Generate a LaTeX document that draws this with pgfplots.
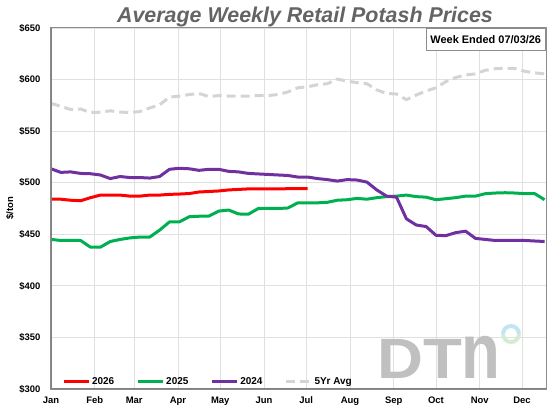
\documentclass[border=0pt]{standalone}
\usepackage{pgfplots}
\pgfplotsset{compat=1.18}
\usepackage{fontspec}
\setmainfont{Liberation Sans}
\definecolor{c26}{RGB}{255,0,0}
\definecolor{c25}{RGB}{0,176,80}
\definecolor{c24}{RGB}{112,48,160}
\definecolor{c5y}{RGB}{212,212,212}
\definecolor{titlegray}{RGB}{100,100,100}
\definecolor{dtngray}{RGB}{192,192,192}
\definecolor{dtnblue}{RGB}{196,228,244}
\definecolor{dtngreen}{RGB}{212,236,210}
\begin{document}
\begin{tikzpicture}
\begin{axis}[
  at={(0,0)}, anchor=south west,
  scale only axis, width=495bp, height=361bp,
  xmin=0, xmax=351, ymin=300, ymax=650,
  xtick={0,31,59,90,120,151,181,212,243,273,304,334},
  xticklabels={Jan,Feb,Mar,Apr,May,Jun,Jul,Aug,Sep,Oct,Nov,Dec},
  ytick={300,350,400,450,500,550,600,650},
  yticklabels={\$300,\$350,\$400,\$450,\$500,\$550,\$600,\$650},
  major tick length=0pt,
  xmajorgrids, ymajorgrids,
  major grid style={draw=black!12, line width=0.8bp},
  axis line style={draw=black!45, line width=1bp},
  xticklabel style={font=\bfseries\fontsize{9.5}{11}\selectfont, yshift=-4bp},
  yticklabel style={font=\bfseries\fontsize{9.5}{11}\selectfont, xshift=-7bp},
  ylabel={\$/ton},
  ylabel style={font=\bfseries\fontsize{9.5}{11}\selectfont, at={(axis description cs:-0.083,0.5)}, anchor=center},
  legend columns=4,
  legend image code/.code={\draw[#1] (0bp,0bp) -- (25bp,0bp);},
  legend style={at={(0.022,0.0194)}, anchor=west, draw=none, fill=none,
    inner sep=0pt, font=\bfseries\fontsize{10}{12}\selectfont,
    /tikz/every even column/.append style={column sep=20bp}},
  line join=round,
]
\addplot[c26, line width=3bp] coordinates {
(0,484)(7,484)(14,483)(21,482.5)(28,485.5)(35,488)(42,488)(49,488)(56,487)(63,487)
(70,488)(77,488)(84,488.7)(91,489)(98,489.5)(105,491)(112,491.5)(119,492)(126,493)(133,493.5)
(140,494)(147,494)(154,494)(161,494)(168,494.2)(175,494.3)(182,494.3)};
\addlegendentry{2026}
\addplot[c25, line width=3bp] coordinates {
(0,445)(7,444)(14,444)(21,444)(28,437.5)(35,437.5)(42,443)(49,445)(56,446.5)(63,447.3)(70,447.3)
(77,454)(84,462)(91,462)(98,467)(105,467.5)(112,467.7)(119,472.5)(126,473.5)(133,469.7)(140,469.5)
(147,475)(154,475)(161,475)(168,475.5)(175,480.5)(182,480.5)(189,480.5)(196,481)(203,483)(210,483.5)
(217,484.8)(224,484)(231,485.5)(238,486.5)(245,487)(252,488)(259,486.5)(266,486)(273,483.5)(280,484.5)
(287,485.5)(294,487)(301,487)(308,489.4)(315,490)(322,490.3)(329,490)(336,489.4)(343,489.4)(350,483.5)};
\addlegendentry{2025}
\addplot[c24, line width=3bp] coordinates {
(0,513.5)(7,510)(14,510.5)(21,509)(28,508.7)(35,507.5)(42,504)(49,506)(56,505)(63,505)(70,504.5)
(77,506)(84,513)(91,514)(98,513.5)(105,512)(112,513)(119,513)(126,511)(133,510.5)(140,509)
(147,508.5)(154,508)(161,507.5)(168,507)(175,505.5)(182,505.5)(189,504)(196,503)(203,501.6)(210,503)
(217,502.6)(224,500.6)(231,493)(238,487)(245,486)(252,465)(259,459)(266,457.5)(273,449)(280,448.7)
(287,451.6)(294,453)(301,446)(308,445)(315,444)(322,444)(329,444)(336,444)(343,443.5)(350,443)};
\addlegendentry{2024}
\addplot[c5y, line width=3bp, dash pattern=on 9bp off 5bp] coordinates {
(0,577)(7,574)(14,571)(21,571.5)(28,568)(35,568.4)(42,569.7)(49,568.5)(56,568)(63,569)(70,572.5)
(77,575.5)(84,583)(91,584)(98,585.5)(105,586.5)(112,583.5)(119,584.5)(126,584)(133,584)(140,584)
(147,584.5)(154,584.5)(161,585.5)(168,588)(175,592)(182,593)(189,595)(196,596)(203,600.5)(210,598.5)
(217,597)(224,596)(231,590)(238,586.5)(245,586)(252,580.5)(259,585)(266,589)(273,592)(280,598)
(287,602)(294,604.5)(301,605.5)(308,609)(315,610.5)(322,611)(329,610.7)(336,608)(343,606.5)(350,605.5)};
\addlegendentry{5Yr Avg}
\draw[black!50, line width=1.8bp] (rel axis cs:0,0) -- (rel axis cs:0,1);
\draw[black!50, line width=1.8bp] (rel axis cs:0,0) -- (rel axis cs:1,0);
\node[anchor=north east, draw=black!45, fill=white, line width=0.8bp,
  inner xsep=4.5bp, minimum height=22bp,
  font=\bfseries\fontsize{11}{13}\selectfont] at (rel axis cs:1,1) {Week Ended 07/03/26};
\end{axis}
% DTN logo (decoration)
\node[text=dtngray, font=\bfseries\fontsize{57}{60}\selectfont, anchor=base west, inner sep=0pt]
  at (326bp,10.7bp) {\scalebox{1.12}[1]{DT\scalebox{1}[1.38]{n}}};
\draw[dtnblue, line width=4bp] (468bp,55bp) arc (0:180:8bp);
\draw[dtngreen, line width=4bp] (452bp,55bp) arc (180:360:8bp);
% title
\node[anchor=base, text=titlegray, font=\bfseries\itshape\fontsize{21.5}{25}\selectfont, inner sep=0pt]
  at (254bp,366bp) {Average Weekly Retail Potash Prices};
\path (-51bp,-23bp) rectangle (499bp,389bp);
\end{tikzpicture}
\end{document}
